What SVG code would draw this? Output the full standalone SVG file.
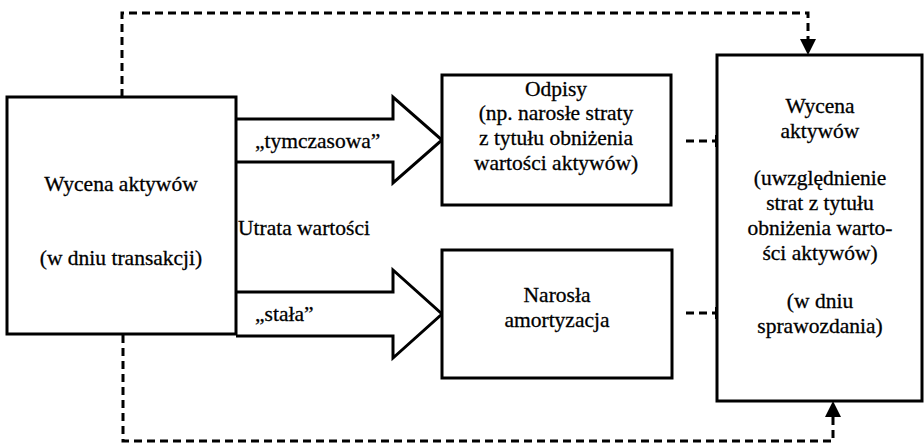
<svg xmlns="http://www.w3.org/2000/svg" width="924" height="446" viewBox="0 0 924 446">
  <style>
    .box { fill: #fff; stroke: #000; stroke-width: 3; }
    .arrow { fill: #fff; stroke: #000; stroke-width: 3; stroke-linejoin: miter; }
    .dash { fill: none; stroke: #000; stroke-width: 3; stroke-dasharray: 8 5; }
    .tick { stroke: #000; stroke-width: 4; }
    .head { fill: #000; }
    text { font-family: "Liberation Serif", "Times New Roman", serif; font-size: 21.5px; fill: #000; stroke: #000; stroke-width: 0.3; }
    .c { text-anchor: middle; }
  </style>

  <!-- connectors -->
  <g id="connectors">
    <!-- feedback loop over the top -->
    <path class="dash" d="M122,97 V13 H808 V40"/>
    <polygon class="head" points="800,39 816,39 808,55"/>
    <!-- feedback loop along the bottom -->
    <path class="dash" d="M123,335 V441 H833 V416"/>
    <polygon class="head" points="825,417 841,417 833,401"/>
    <!-- short links into the result box -->
    <path class="dash" d="M686,141 H715"/>
    <line class="tick" x1="717" y1="135" x2="717" y2="147"/>
    <path class="dash" d="M686,313 H715"/>
    <line class="tick" x1="717" y1="307" x2="717" y2="319"/>
    <!-- block arrows -->
    <path class="arrow" d="M236,119 H393 V97 L442,140 L393,183 V162 H236"/>
    <path class="arrow" d="M236,292 H393 V270 L442,314 L393,358 V336 H236"/>
  </g>

  <g id="labels">
    <text x="255" y="148">„tymczasowa”</text>
    <text x="238" y="235">Utrata wartości</text>
    <text x="255" y="321">„stała”</text>
  </g>

  <g id="node-start">
    <rect class="box" x="7" y="97" width="229" height="237"/>
    <text class="c" x="121" y="191">Wycena aktywów</text>
    <text class="c" x="121" y="265">(w dniu transakcji)</text>
  </g>

  <g id="node-writeoff">
    <rect class="box" x="442" y="75" width="229" height="130"/>
    <text class="c" x="556" y="96">Odpisy</text>
    <text class="c" x="556" y="120">(np. narosłe straty</text>
    <text class="c" x="556" y="145">z tytułu obniżenia</text>
    <text class="c" x="556" y="170">wartości aktywów)</text>
  </g>

  <g id="node-depreciation">
    <rect class="box" x="442" y="250" width="230" height="128"/>
    <text class="c" x="557" y="302">Narosła</text>
    <text class="c" x="557" y="327">amortyzacja</text>
  </g>

  <g id="node-result">
    <rect class="box" x="717" y="55" width="205" height="346"/>
    <text class="c" x="820" y="113">Wycena</text>
    <text class="c" x="820" y="138">aktywów</text>
    <text class="c" x="820" y="185">(uwzględnienie</text>
    <text class="c" x="820" y="210">strat z tytułu</text>
    <text class="c" x="820" y="235">obniżenia warto-</text>
    <text class="c" x="820" y="260">ści aktywów)</text>
    <text class="c" x="820" y="308">(w dniu</text>
    <text class="c" x="820" y="333">sprawozdania)</text>
  </g>
</svg>
